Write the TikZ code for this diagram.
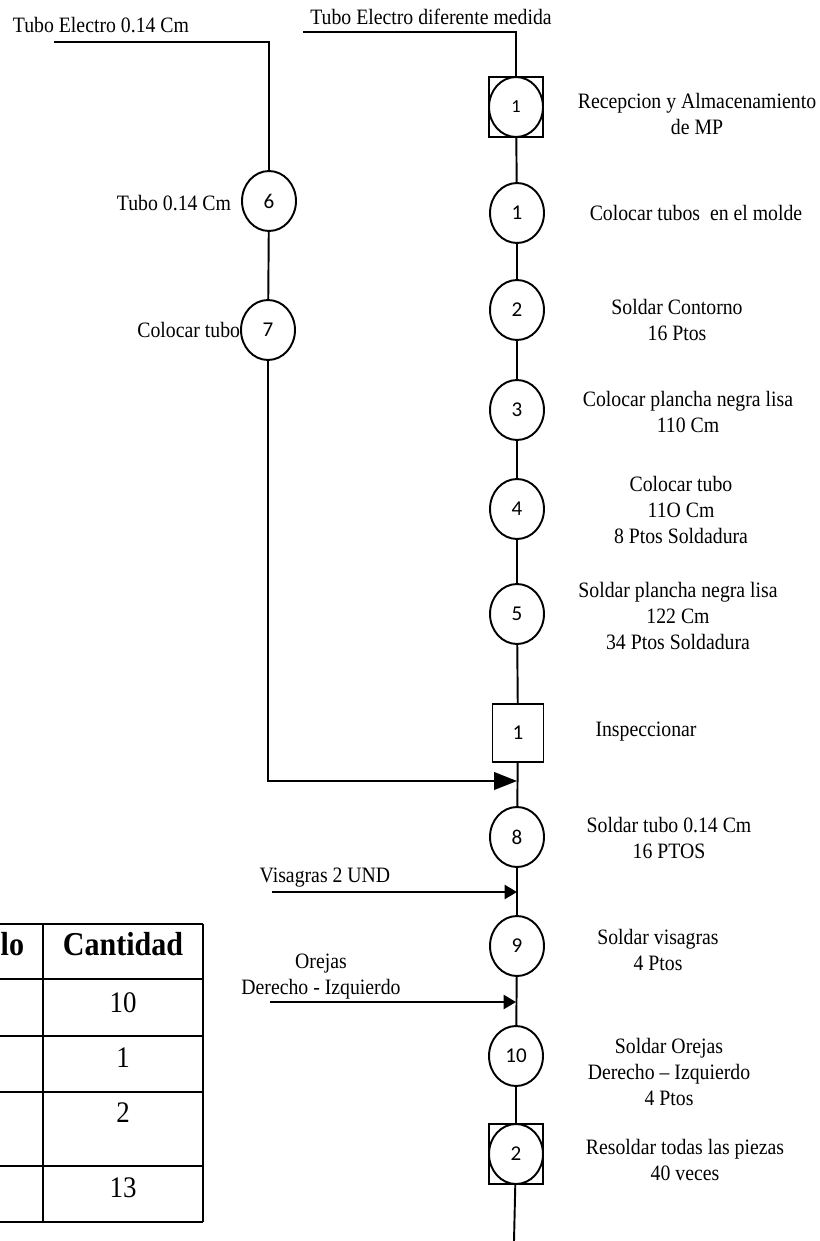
\documentclass[tikz,border=0pt]{standalone}
\usepackage{fontspec}
\setmainfont{Liberation Serif}[FakeStretch=0.9]
\newfontfamily\numfont{Carlito}
\usetikzlibrary{arrows.meta,shapes.geometric}

\begin{document}
\begin{tikzpicture}[x=0.02cm, y=-0.02cm, line width=1.1pt,
  >={Triangle[length=7pt,width=8pt]},
  op/.style={ellipse, draw, minimum width=1.08cm, minimum height=1.2cm, inner sep=0pt,
    font=\numfont\fontsize{12}{14}\selectfont},
  caja/.style={rectangle, draw, line width=0.9pt, minimum width=1.08cm, minimum height=1.2cm, inner sep=0pt},
  insp/.style={rectangle, draw, line width=0.9pt, minimum width=1.02cm, minimum height=1.16cm, inner sep=0pt,
    font=\numfont\fontsize{12}{14}\selectfont},
  txt/.style={align=center, inner sep=0pt, font=\fontsize{12.5}{14.8}\selectfont},
  tab/.style={inner sep=0pt, font=\fontsize{17}{20}\selectfont}]
  \clip (0,0) rectangle (819,1241);

  % linea principal
  \node[caja] (rec1) at (516,107) {};
  \node[op, font=\numfont\fontsize{10.5}{12}\selectfont] (rec1c) at (rec1) {1};
  \node[op] (op1) at (517,213) {1};
  \node[op] (op2) at (517,310) {2};
  \node[op] (op3) at (517,410) {3};
  \node[op] (op4) at (517,509) {4};
  \node[op] (op5) at (517,614) {5};
  \node[insp] (insp1) at (518,733) {1};
  \node[op] (op8) at (517,837) {8};
  \node[op] (op9) at (517,946) {9};
  \node[op] (op10) at (516,1056) {10};
  \node[caja] (alm2) at (516,1154) {};
  \node[op] (alm2c) at (alm2) {2};

  \foreach \a/\b in {rec1/op1, op1/op2, op2/op3, op3/op4, op4/op5, op5/insp1,
                     insp1/op8, op8/op9, op9/op10, op10/alm2}
    \draw (\a) -- (\b);
  \coordinate (fin) at (514,1241);
  \draw (alm2) -- (fin);

  % entrada de tubo (arriba)
  \coordinate (e1) at (303,32);
  \draw (e1) -- (e1 -| rec1) -- (rec1);
  \node[txt] (le1) at (431,17) {Tubo Electro diferente medida};

  % rama izquierda
  \node[op] (op6) at (269,201) {6};
  \node[op] (op7) at (268,330) {7};
  \coordinate (e2) at (54,42);
  \draw (e2) -- (e2 -| op6) -- (op6);
  \draw (op6) -- (op7);
  \coordinate (j1) at (517,781);
  \draw[-{Triangle[length=13pt,width=10pt]}] (op7) -- (op7 |- j1) -- (j1);
  \node[txt] (le2) at (101,25) {Tubo Electro 0.14 Cm};
  \node[txt, anchor=east] (l6) at (232,203) {Tubo 0.14 Cm};
  \node[txt, anchor=east] (l7) at (241,330) {Colocar tubo};

  % entradas de visagras y orejas
  \coordinate (v0) at (272,892);
  \coordinate (v1) at (517,892);
  \draw[->] (v0) -- (v1);
  \node[txt] (lvis) at (325,878) {Visagras 2 UND};
  \coordinate (o0) at (270,1002);
  \coordinate (o1) at (516,1002);
  \draw[->] (o0) -- (o1);
  \node[txt] (lore) at (321,977) {Orejas\\Derecho - Izquierdo};

  % descripciones
  \node[txt] (lrec) at (697,114) {Recepcion y Almacenamiento\\de MP};
  \node[txt] (l1) at (696,213) {Colocar tubos~ en el molde};
  \node[txt] (l2) at (677,320) {Soldar Contorno\\16 Ptos};
  \node[txt] (l3) at (688,412) {Colocar plancha negra lisa\\110 Cm};
  \node[txt] (l4) at (681,510) {Colocar tubo\\11O Cm\\8 Ptos Soldadura};
  \node[txt] (l5) at (678,616) {Soldar plancha negra lisa\\122 Cm\\34 Ptos Soldadura};
  \node[txt] (linsp) at (646,732) {Inspeccionar};
  \node[txt] (l8) at (669,838) {Soldar tubo 0.14 Cm\\16 PTOS};
  \node[txt] (l9) at (658,950) {Soldar visagras\\4 Ptos};
  \node[txt] (l10) at (669,1072) {Soldar Orejas\\Derecho -- Izquierdo\\4 Ptos};
  \node[txt] (l11) at (685,1160) {Resoldar todas las piezas\\40 veces};

  % tabla resumen
  \foreach \yy in {924,979,1036,1092,1166,1222}
    \draw (-20,\yy) -- (203,\yy);
  \draw (43,924) -- (43,1222);
  \draw (203,924) -- (203,1222);
  \node[tab, font=\fontsize{19}{22}\selectfont\bfseries, anchor=base east] (hsim) at (25,955) {Símbolo};
  \node[tab, font=\fontsize{19}{22}\selectfont\bfseries, anchor=base] (hcant) at (123,955) {Cantidad};
  \node[tab, anchor=base] (c1) at (123,1012) {10};
  \node[tab, anchor=base] (c2) at (123,1067) {1};
  \node[tab, anchor=base] (c3) at (123,1122) {2};
  \node[tab, anchor=base] (c4) at (123,1197) {13};
\end{tikzpicture}
\end{document}
